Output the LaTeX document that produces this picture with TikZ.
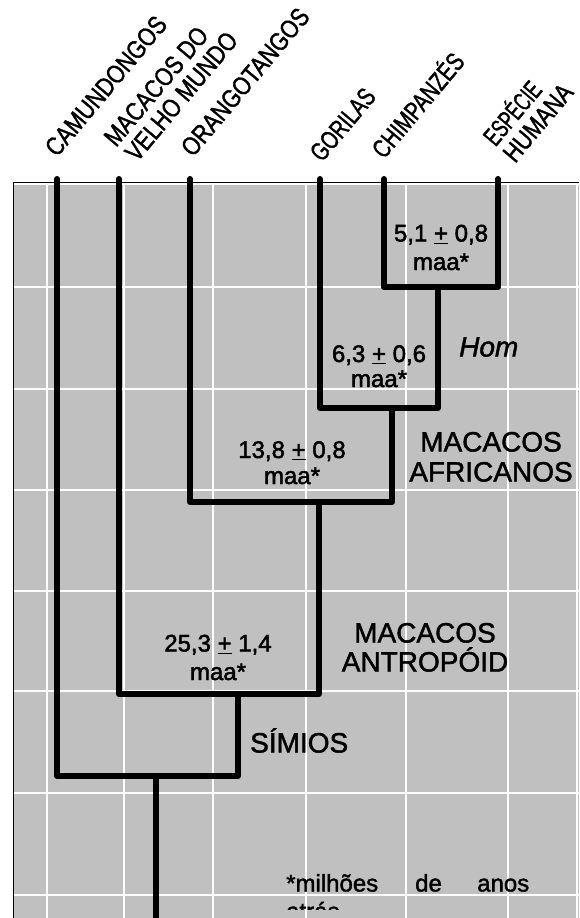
\documentclass[tikz,border=0pt]{standalone}
\usepackage{fontspec}
\setmainfont[FakeBold=1.5]{Liberation Sans}
\newfontfamily\taxfont[FakeStretch=0.82, FakeBold=1.5]{Liberation Sans}
\newfontfamily\numfont[FakeBold=2]{Liberation Sans}
\definecolor{panel}{RGB}{192,192,192}
\begin{document}
\begin{tikzpicture}[x=1pt,y=-1pt,
  branch/.style={line width=6pt, line cap=round, line join=round},
  gridline/.style={white, line width=1.3pt},
  lab/.style={inner sep=0pt, anchor=base, font=\numfont\fontsize{24}{28}\selectfont},
  big/.style={inner sep=0pt, anchor=base, font=\fontsize{28}{32}\selectfont},
  foot/.style={inner sep=0pt, anchor=base west, font=\fontsize{24}{28}\selectfont},
  taxon/.style={inner sep=0pt, anchor=base west, rotate=50, font=\taxfont\fontsize{26}{28}\selectfont},
]
\useasboundingbox (0,0) rectangle (579,918);
% panel and grid
\fill[panel] (13,182) rectangle (579,918);
\foreach \x in {47,124,213,306,406,508,577} \draw[gridline] (\x,182) -- (\x,918);
\foreach \y in {184,287,389,490,591,691,793,895} \draw[gridline] (13,\y) -- (579,\y);
\draw[black, line width=0.8pt] (13,918) -- (13,182) -- (579,182);

% tips and junctions
\coordinate (cam) at (57,179);
\coordinate (mvm) at (119,179);
\coordinate (ora) at (190,179);
\coordinate (gor) at (320,179);
\coordinate (chi) at (384,179);
\coordinate (hum) at (498,179);
\coordinate (A) at (438,287);
\coordinate (B) at (392,408);
\coordinate (C) at (319,502);
\coordinate (D) at (238,694);
\coordinate (E) at (156,776);
\coordinate (root) at (156,925);

\draw[branch] (chi) |- (A) -| (hum);
\draw[branch] (gor) |- (B) -| (A);
\draw[branch] (ora) |- (C) -| (B);
\draw[branch] (mvm) |- (D) -| (C);
\draw[branch] (cam) |- (E) -| (D);
\draw[branch] (E) -- (root);

% taxon labels
\node[taxon] (tcam) at (57,158) {CAMUNDONGOS};
\node[taxon] (tmvm1) at (116,148) {MACACOS DO};
\node[taxon] (tmvm2) at (137,163) {VELHO MUNDO};
\node[taxon] (tora) at (193,158) {ORANGOTANGOS};
\node[taxon] (tgor) at (322,163) {\scalebox{0.9}[1]{GORILAS}};
\node[taxon] (tchi) at (384,160) {\scalebox{0.92}[1]{CHIMPANZÉS}};
\node[taxon] (thum1) at (495.5,147.5) {\scalebox{0.8}[1]{ESPÉCIE}};
\node[taxon] (thum2) at (515,164) {HUMANA};

% dates
\node[lab] (dA1) at (441,241.5) {5,1 \underline{+} 0,8};
\node[lab] (dA2) at (441,270) {maa*};
\node[lab] (dB1) at (379,362) {6,3 \underline{+} 0,6};
\node[lab] (dB2) at (379,387) {maa*};
\node[lab] (dC1) at (292,458) {13,8 \underline{+} 0,8};
\node[lab] (dC2) at (292,484) {maa*};
\node[lab] (dD1) at (218,651.5) {25,3 \underline{+} 1,4};
\node[lab] (dD2) at (218,680) {maa*};

% group labels
\node[big, font=\fontsize{28}{32}\selectfont\itshape, anchor=base west] (hom) at (459,356.5) {Hom};
\node[big] (afr1) at (491,451.5) {MACACOS};
\begin{scope}
  \clip (300,455) rectangle (579,482.5);
  \node[big] (afr2) at (491,481.5) {AFRICANOS};
\end{scope}
\node[big] (ant1) at (425,642.5) {MACACOS};
\begin{scope}
  \clip (300,646) rectangle (579,672.5);
  \node[big] (ant2) at (425,671.5) {ANTROPÓID};
\end{scope}
\node[big, anchor=base west] (sim) at (250,752.5) {SÍMIOS};

% footnote
\node[foot] (f1) at (286,891.5) {*milhões};
\node[foot] (f2) at (415,891.5) {de};
\node[foot] (f3) at (477,891.5) {anos};
\begin{scope}
  \clip (280,896) rectangle (579,909);
  \node[foot] (f4) at (286,919.5) {atrás};
\end{scope}
\end{tikzpicture}
\end{document}
